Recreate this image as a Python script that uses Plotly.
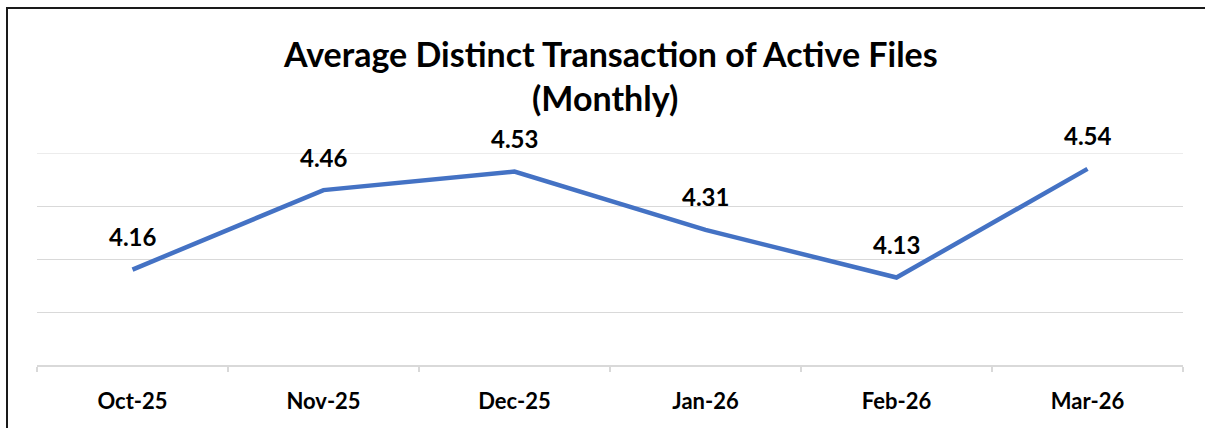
import plotly.graph_objects as go

months = ["Oct-25", "Nov-25", "Dec-25", "Jan-26", "Feb-26", "Mar-26"]
values = [4.16, 4.46, 4.53, 4.31, 4.13, 4.54]
value_labels = ["4.16", "4.46", "4.53", "4.31", "4.13", "4.54"]
title_line1 = "Average Distinct Transaction of Active Files"
title_line2 = "(Monthly)"
y_min, y_max, y_step = 3.8, 4.6, 0.2

FONT = "Lato, Calibri, Carlito, sans-serif"
W, H = 1205, 428
ML, MR, MT, MB = 37, 22, 153, 63
PW, PH = W - ML - MR, H - MT - MB

fig = go.Figure()
fig.add_trace(go.Scatter(
    x=months, y=values, mode="lines",
    line=dict(color="#4472C4", width=4.5),
    hoverinfo="skip", showlegend=False,
))

for m, v, t in zip(months, values, value_labels):
    fig.add_annotation(x=m, y=v, text=f"<b>{t}</b>", showarrow=False,
                       yshift=33, font=dict(family=FONT, size=24, color="#000000"))

# two-line title
fig.add_annotation(xref="paper", yref="paper", x=(610 - ML) / PW, y=(H - MB - 54) / PH,
                   text=f"<b>{title_line1}</b>", showarrow=False, yanchor="middle",
                   font=dict(family=FONT, size=34, color="#000000"))
fig.add_annotation(xref="paper", yref="paper", x=(605 - ML) / PW, y=(H - MB - 97) / PH,
                   text=f"<b>{title_line2}</b>", showarrow=False, yanchor="middle",
                   font=dict(family=FONT, size=34, color="#000000"))

# top gridline (at the range edge, which plotly does not draw)
fig.add_shape(type="line", xref="paper", yref="y", x0=0, x1=1, y0=y_max, y1=y_max,
              layer="below", line=dict(color="#d9d9d9", width=1.2))

# outer chart border
fig.add_shape(type="rect", xref="paper", yref="paper", layer="above",
              x0=(7 - ML) / PW, x1=(1215 - ML) / PW,
              y0=(H - MB - 440) / PH, y1=(H - MB - 8) / PH,
              line=dict(color="#1a1a1a", width=2))

fig.update_xaxes(
    type="category", range=[-0.5, len(months) - 0.5],
    tickson="boundaries", ticks="outside", ticklen=5,
    tickcolor="#d9d9d9", tickwidth=1.5, showline=True, linecolor="#d9d9d9", linewidth=1.5,
    showgrid=False, ticklabelstandoff=16,
    tickfont=dict(family=FONT, size=22, color="#000000", weight="bold"),
)
fig.update_yaxes(
    range=[y_min, y_max], tick0=y_min, dtick=y_step, showticklabels=False, showgrid=True,
    gridcolor="#d9d9d9", gridwidth=1.2, zeroline=False, showline=False,
)
fig.update_layout(
    width=W, height=H, margin=dict(l=ML, r=MR, t=MT, b=MB),
    plot_bgcolor="white", paper_bgcolor="white",
)
fig.write_html("out.html", config={"displayModeBar": False},
               post_script="document.body.style.margin='0';document.body.style.overflow='hidden';")
